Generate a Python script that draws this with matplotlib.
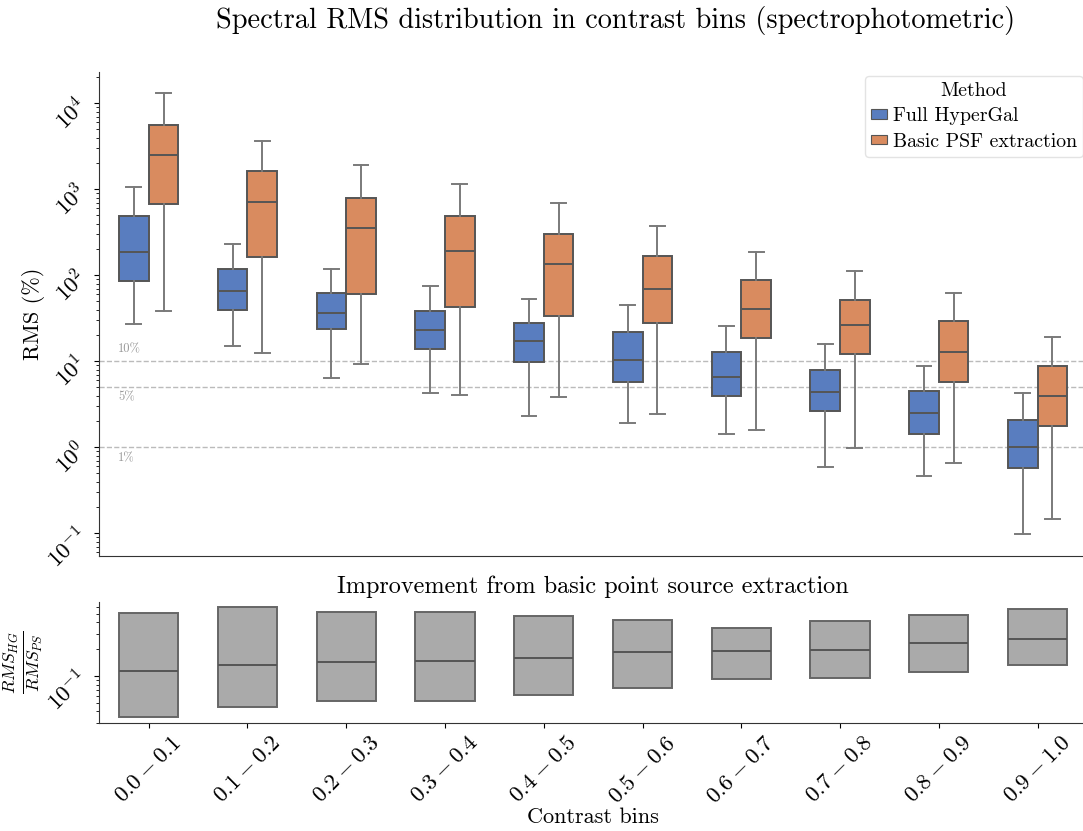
import matplotlib
matplotlib.use("Agg")
import matplotlib.pyplot as plt
from matplotlib.patches import Patch
import numpy as np

plt.rcParams['font.family'] = ['cmr10', 'DejaVu Serif']
plt.rcParams['mathtext.fontset'] = 'cm'
plt.rcParams['axes.unicode_minus'] = False
plt.rcParams['axes.formatter.use_mathtext'] = True

bins = ["$0.0-0.1$", "$0.1-0.2$", "$0.2-0.3$", "$0.3-0.4$", "$0.4-0.5$",
        "$0.5-0.6$", "$0.6-0.7$", "$0.7-0.8$", "$0.8-0.9$", "$0.9-1.0$"]
methods = ["Full HyperGal", "Basic PSF extraction"]

# Full HyperGal box stats (RMS %)
hg_whislo = [27.4, 15.2, 6.40, 4.25, 2.29, 1.92, 1.44, 0.590, 0.464, 0.098]
hg_q1     = [85.9, 39.8, 23.5, 13.8, 9.73, 5.79, 3.92, 2.62, 1.44, 0.579]
hg_med    = [185, 65.2, 36.7, 23.3, 17.4, 10.3, 6.52, 4.36, 2.53, 1.01]
hg_q3     = [493, 119, 61.8, 38.5, 27.7, 21.7, 12.8, 7.86, 4.55, 2.06]
hg_whishi = [1072, 233, 118, 74.5, 53.0, 45.2, 25.9, 15.9, 8.75, 4.28]

# Basic PSF extraction box stats (RMS %)
ps_whislo = [38.1, 12.6, 9.30, 4.06, 3.85, 2.42, 1.60, 0.99, 0.662, 0.148]
ps_q1     = [675, 164.6, 61.1, 43.1, 33.6, 28.1, 18.7, 12.1, 5.74, 1.77]
ps_med    = [2485, 706, 355, 192, 135, 69.8, 40.6, 26.4, 12.7, 3.95]
ps_q3     = [5640, 1620, 798, 489, 305, 168, 88.9, 52.0, 29.2, 8.75]
ps_whishi = [13180, 3645, 1918, 1143, 699, 377, 187, 112, 62.8, 19.2]

# Ratio RMS_HG / RMS_PS box stats
r_q1  = [0.0344, 0.0445, 0.052, 0.052, 0.0607, 0.0733, 0.0925, 0.095, 0.111, 0.134]
r_med = [0.1147, 0.132, 0.144, 0.149, 0.159, 0.185, 0.191, 0.194, 0.237, 0.258]
r_q3  = [0.514, 0.596, 0.528, 0.524, 0.476, 0.423, 0.349, 0.415, 0.488, 0.570]

thresholds = [10, 5, 1]
threshold_labels = ["10%", "5%", "1%"]
threshold_label_y = [13.9, 3.85, 0.75]

blue = "#597dbf"
orange = "#d98b5f"
edge = "#555555"

fig = plt.figure(figsize=(10.83, 8.31), dpi=100)
ax1 = fig.add_axes([0.0917, 0.3313, 0.912, 0.5824])
ax2 = fig.add_axes([0.0917, 0.1303, 0.912, 0.1456])

def mkstats(lo, q1, med, q3, hi):
    return [dict(whislo=a, q1=b, med=c, q3=d, whishi=e, fliers=[])
            for a, b, c, d, e in zip(lo, q1, med, q3, hi)]

x = np.arange(len(bins))
lw = 1.4
for stats, pos, col in [
    (mkstats(hg_whislo, hg_q1, hg_med, hg_q3, hg_whishi), x - 0.15, blue),
    (mkstats(ps_whislo, ps_q1, ps_med, ps_q3, ps_whishi), x + 0.15, orange),
]:
    ax1.bxp(stats, positions=pos, widths=0.3, patch_artist=True, showfliers=False,
            boxprops=dict(facecolor=col, edgecolor=edge, linewidth=lw),
            medianprops=dict(color=edge, linewidth=lw),
            whiskerprops=dict(color="#7a7a7a", linewidth=lw),
            capprops=dict(color="#7a7a7a", linewidth=lw))

ax1.set_yscale('log')
ax1.set_xlim(-0.5, 9.5)
ax1.set_ylim(0.0549, 23300)
ax1.set_xticks([])
for t, lab, ly in zip(thresholds, threshold_labels, threshold_label_y):
    ax1.axhline(t, color="#bbbbbb", linestyle="--", linewidth=1.0, zorder=0)
    ax1.text(-0.31, ly, lab, color="#999999", fontsize=9, va="center", ha="left")
ax1.set_ylabel("RMS (%)", fontsize=16)
ax1.yaxis.set_label_coords(-0.055, 0.5)
ax1.tick_params(axis='y', labelsize=16.5, labelrotation=45, pad=2)
for s in ['top', 'right']:
    ax1.spines[s].set_visible(False)

handles = [Patch(facecolor=blue, edgecolor=edge, linewidth=0.8),
           Patch(facecolor=orange, edgecolor=edge, linewidth=0.8)]
leg = ax1.legend(handles, methods, title="Method", loc="upper right",
                 fontsize=14.3, title_fontsize=14.3, handlelength=0.8, handleheight=0.35,
                 handletextpad=0.3, borderpad=0.3, labelspacing=0.38, frameon=True,
                 fancybox=True, borderaxespad=0.2)
leg.get_frame().set_edgecolor("#dddddd")

rstats = [dict(whislo=a, q1=a, med=b, q3=c, whishi=c, fliers=[])
          for a, b, c in zip(r_q1, r_med, r_q3)]
ax2.bxp(rstats, positions=x, widths=0.6, patch_artist=True, showfliers=False,
        showcaps=False,
        boxprops=dict(facecolor="#aaaaaa", edgecolor="#666666", linewidth=lw),
        medianprops=dict(color="#555555", linewidth=lw),
        whiskerprops=dict(linewidth=0))
ax2.set_yscale('log')
ax2.set_xlim(-0.5, 9.5)
ax2.set_ylim(0.0299, 0.684)
ax2.set_xticks(x)
ax2.set_xticklabels(bins, rotation=45, fontsize=16.5)
ax2.tick_params(axis='y', labelsize=16.5, labelrotation=45, pad=2)
ax2.set_title("Improvement from basic point source extraction", fontsize=17.5, pad=6)
ax2.set_ylabel(r"$\frac{RMS_{HG}}{RMS_{PS}}$", fontsize=18)
ax2.yaxis.set_label_coords(-0.056, 0.5)
ax2.set_xlabel("Contrast bins", fontsize=16)
ax2.xaxis.set_label_coords(0.5, -0.7)
for s in ['top', 'right']:
    ax2.spines[s].set_visible(False)

for ax in (ax1, ax2):
    for s in ['left', 'bottom']:
        ax.spines[s].set_color("#333333")

fig.text(0.568, 0.975, "Spectral RMS distribution in contrast bins (spectrophotometric)",
         fontsize=20.4, ha="center", va="center")

fig.savefig("out.png", dpi=100)
